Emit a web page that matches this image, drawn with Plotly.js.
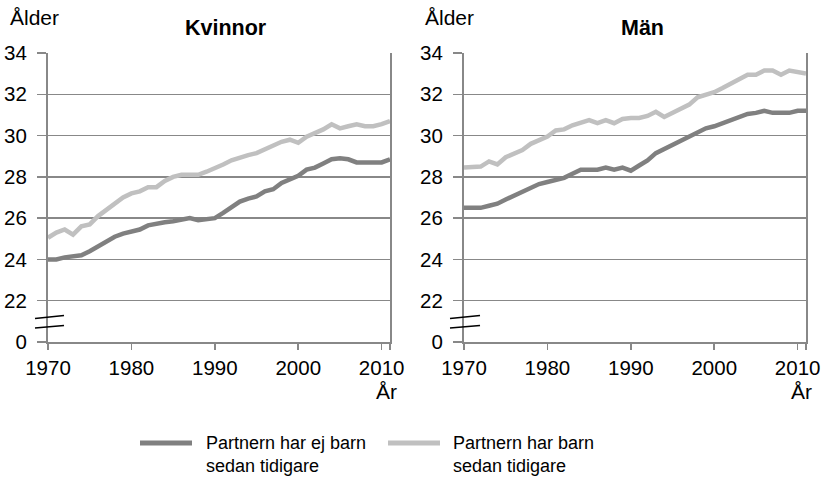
<!DOCTYPE html>
<html>
<head>
<meta charset="utf-8">
<script src="https://cdn.plot.ly/plotly-3.0.1.min.js"></script>
<style>html,body{margin:0;padding:0;background:#fff;}#chart{width:823px;height:480px;}</style>
</head>
<body>
<div id="chart"></div>
<script>
// ---- data ----
const years = [];
for (let y = 1970; y <= 2011; y++) years.push(y);

const kvinnorEjBarn = [24.0,24.0,24.1,24.15,24.2,24.4,24.65,24.9,25.1,25.25,
  25.35,25.45,25.65,25.75,25.8,25.85,25.95,26.0,25.9,25.95,
  26.0,26.25,26.55,26.8,26.95,27.05,27.3,27.4,27.7,27.9,
  28.05,28.35,28.45,28.65,28.85,28.9,28.85,28.7,28.7,28.7,28.7,28.85];
const kvinnorHarBarn = [25.05,25.3,25.45,25.2,25.6,25.7,26.1,26.4,26.7,27.0,
  27.2,27.3,27.5,27.5,27.8,28.0,28.1,28.1,28.1,28.25,
  28.4,28.6,28.8,28.95,29.05,29.15,29.35,29.5,29.7,29.8,
  29.65,29.95,30.1,30.3,30.55,30.35,30.45,30.55,30.45,30.45,30.55,30.7];
const manEjBarn = [26.5,26.5,26.5,26.6,26.7,26.9,27.1,27.3,27.5,27.65,
  27.75,27.85,27.95,28.15,28.35,28.35,28.35,28.45,28.35,28.45,
  28.3,28.55,28.8,29.15,29.35,29.5,29.75,29.95,30.15,30.35,
  30.45,30.6,30.75,30.9,31.05,31.1,31.2,31.1,31.1,31.1,31.2,31.2];
const manHarBarn = [28.45,28.45,28.5,28.75,28.6,28.95,29.15,29.3,29.6,29.75,
  29.95,30.25,30.3,30.5,30.65,30.75,30.6,30.75,30.6,30.8,
  30.85,30.85,30.95,31.15,30.9,31.1,31.3,31.5,31.85,31.95,
  32.1,32.3,32.5,32.7,32.95,32.95,33.15,33.15,32.95,33.15,33.05,33.0];

const yTickVals = [20,22,24,26,28,30,32,34];
const yTickText = ['0','22','24','26','28','30','32','34'];
const xTickVals = [1970,1980,1990,2000,2010,2011];
const xTickText = ['1970','1980','1990','2000','2010',''];
const seriesNames = ['Partnern har ej barn<br>sedan tidigare','Partnern har barn<br>sedan tidigare'];
const panelTitles = ['Kvinnor','Män'];

// ---- style ----
const DARK = '#808080', LIGHT = '#c0c0c0', AX = '#888888';
const FONT = '"Liberation Sans", Arial, sans-serif';

function tr(y, color, xa, ya) {
  return {x: years, y: y, type: 'scatter', mode: 'lines', xaxis: xa, yaxis: ya,
    line: {color: color, width: 4.5}, showlegend: false, hoverinfo: 'skip'};
}
const data = [
  tr(kvinnorEjBarn, DARK, 'x', 'y'),
  tr(kvinnorHarBarn, LIGHT, 'x', 'y'),
  tr(manEjBarn, DARK, 'x2', 'y2'),
  tr(manHarBarn, LIGHT, 'x2', 'y2')
];

function xa(domain, anchor) {
  return {domain: domain, anchor: anchor, range: [1970, 2011], tickvals: xTickVals, ticktext: xTickText,
    ticks: 'outside', ticklen: 6, tickwidth: 1.5, tickcolor: AX, showline: true, linecolor: AX, linewidth: 2,
    showgrid: false, zeroline: false, tickfont: {size: 20.5, color: '#000'}, fixedrange: true};
}
function ya(anchor) {
  return {anchor: anchor, range: [20, 34], tickvals: yTickVals, ticktext: yTickText,
    ticks: 'outside', ticklen: 9, tickwidth: 1.5, tickcolor: AX, showline: true, linecolor: AX, linewidth: 2,
    mirror: true, showgrid: true, gridcolor: AX, gridwidth: 1.4, zeroline: false,
    tickfont: {size: 20.5, color: '#000'}, ticklabelstandoff: 6, fixedrange: true};
}

const px = v => (v - 48) / 758;
const py = v => (342 - v) / 289;

const annotations = [
  {text: 'Ålder', x: px(8), y: py(18), xanchor: 'left', yanchor: 'middle'},
  {text: 'Ålder', x: px(423), y: py(18), xanchor: 'left', yanchor: 'middle'},
  {text: '<b>' + panelTitles[0] + '</b>', x: px(226), y: py(28), xanchor: 'center', yanchor: 'middle', font: {size: 21.5, family: FONT, color: '#000'}},
  {text: '<b>' + panelTitles[1] + '</b>', x: px(642), y: py(28), xanchor: 'center', yanchor: 'middle', font: {size: 21.5, family: FONT, color: '#000'}},
  {text: 'År', x: px(386), y: py(391), xanchor: 'center', yanchor: 'middle'},
  {text: 'År', x: px(801), y: py(391), xanchor: 'center', yanchor: 'middle'},
  {text: seriesNames[0], x: px(204), y: py(454), xanchor: 'left', yanchor: 'middle', align: 'left', font: {size: 18, family: FONT, color: '#000'}},
  {text: seriesNames[1], x: px(451), y: py(454), xanchor: 'left', yanchor: 'middle', align: 'left', font: {size: 18, family: FONT, color: '#000'}}
].map(a => Object.assign({xref: 'paper', yref: 'paper', showarrow: false, font: {size: 21, family: FONT, color: '#000'}}, a));

const shapes = [
  // legend samples
  {type: 'line', x0: px(140), x1: px(192), y0: py(443), y1: py(443), line: {color: DARK, width: 5}},
  {type: 'line', x0: px(388), x1: px(440), y0: py(443), y1: py(443), line: {color: LIGHT, width: 5}},
  // axis break marks
  {type: 'line', x0: px(35), x1: px(64), y0: py(318.5), y1: py(315.5), line: {color: '#000', width: 1.6}},
  {type: 'line', x0: px(35), x1: px(64), y0: py(328), y1: py(325.5), line: {color: '#000', width: 1.6}},
  {type: 'line', x0: px(450), x1: px(480), y0: py(318.5), y1: py(315.5), line: {color: '#000', width: 1.6}},
  {type: 'line', x0: px(450), x1: px(480), y0: py(328), y1: py(325.5), line: {color: '#000', width: 1.6}}
].map(s => Object.assign({xref: 'paper', yref: 'paper', layer: 'above'}, s));

const layout = {
  width: 823, height: 480,
  margin: {l: 48, r: 17, t: 53, b: 138},
  paper_bgcolor: '#fff', plot_bgcolor: '#fff',
  font: {family: FONT, color: '#000'},
  showlegend: false,
  xaxis: xa([0, 342 / 758], 'y'),
  yaxis: ya('x'),
  xaxis2: xa([416 / 758, 1], 'y2'),
  yaxis2: ya('x2'),
  annotations: annotations,
  shapes: shapes
};

Plotly.newPlot('chart', data, layout, {displayModeBar: false, staticPlot: true});
</script>
</body>
</html>
